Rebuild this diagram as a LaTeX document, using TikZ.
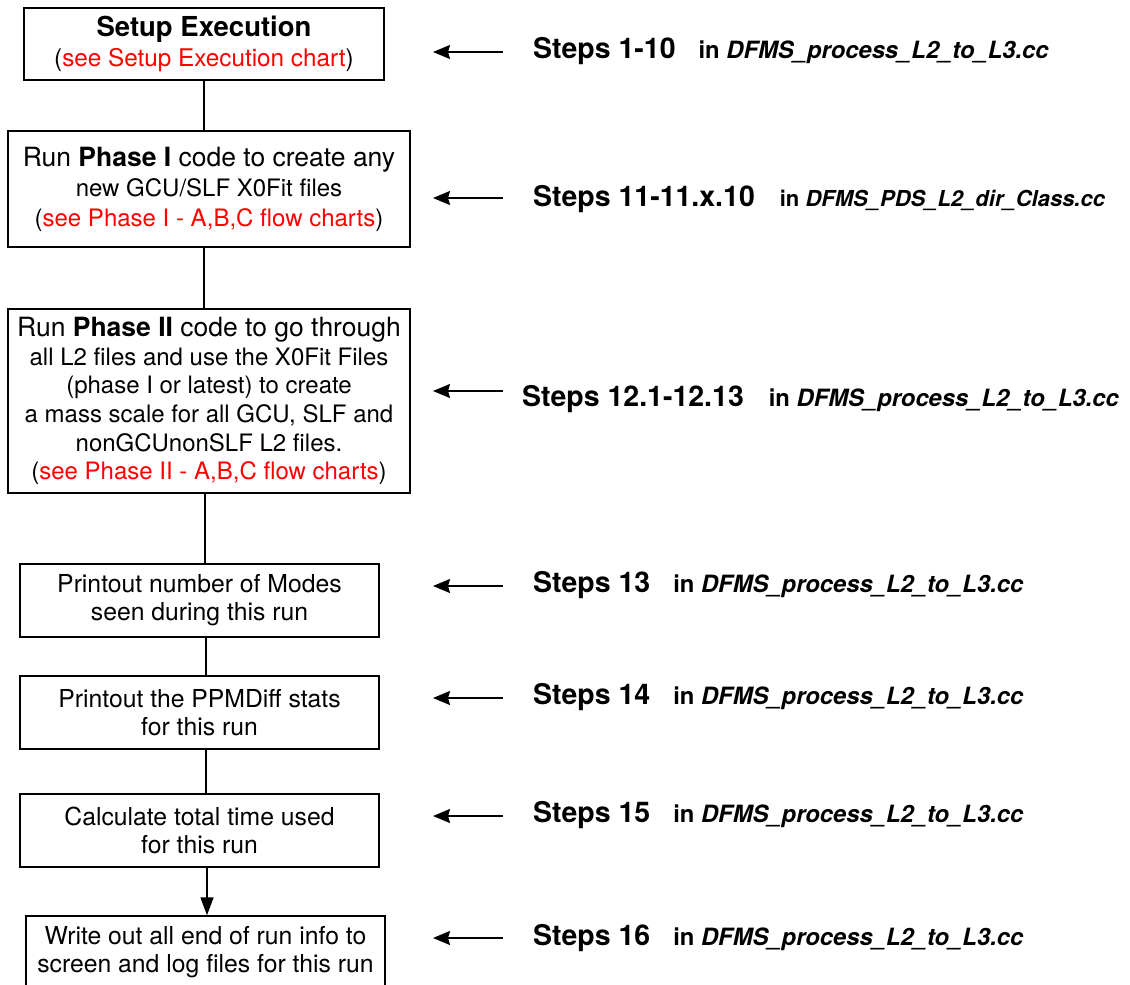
\documentclass[tikz,border=0pt]{standalone}
\usepackage{fontspec}
\setmainfont{TeX Gyre Heros}
\usetikzlibrary{arrows.meta}
\definecolor{linkred}{RGB}{255,0,0}
\newcommand{\seeref}[1]{({\color{linkred}#1})}
\begin{document}
\begin{tikzpicture}[x=1pt,y=-1pt,
  flowbox/.style={draw=black,line width=1.4pt,align=center,inner sep=0pt,
    font=\fontsize{24}{29}\selectfont},
  smallbox/.style={flowbox,minimum width=359pt,minimum height=73pt,
    font=\fontsize{24.75}{28}\selectfont},
  conn/.style={line width=1.4pt},
  steparrow/.style={line width=1.6pt,-{Stealth[length=17pt,width=14pt,inset=2pt]}},
  steplabel/.style={anchor=base west,inner sep=0pt,
    font=\fontsize{28.5}{30}\selectfont\bfseries}]
\path[use as bounding box,clip] (0,0) rectangle (1130,985);
\newcommand{\infile}[2][23.8]{{\fontsize{#1}{26}\selectfont in \textit{#2}}}

% boxes
\node[flowbox,minimum width=360pt,minimum height=72pt,font=\fontsize{24.3}{30}\selectfont] (b1) at (204,44)
  {{\fontsize{27.5}{30}\selectfont\bfseries Setup Execution}\\\seeref{see Setup Execution chart}};
\node[flowbox,minimum width=402pt,minimum height=116pt,font=\fontsize{24}{30}\selectfont] (b2) at (209,189)
  {{\fontsize{26.5}{30}\selectfont Run \textbf{Phase I} code to create any}\\
   new GCU/SLF X0Fit files\\
   \seeref{see Phase I - A,B,C flow charts}};
\node[flowbox,minimum width=402pt,minimum height=184pt,font=\fontsize{24}{28.6}\selectfont] (b3) at (209,401)
  {{\fontsize{26.5}{28.6}\selectfont Run \textbf{Phase II} code to go through}\\
   all L2 files and use the X0Fit Files\\
   (phase I or latest) to create\\
   a mass scale for all GCU, SLF and\\
   nonGCUnonSLF L2 files.\\
   \seeref{see Phase II - A,B,C flow charts}};
\node[smallbox] (b4) at (199.5,600.5) {Printout number of Modes\\seen during this run};
\node[smallbox] (b5) at (199.5,712.5) {Printout the PPMDiff stats\\for this run};
\node[smallbox] (b6) at (199.5,830.5) {Calculate total time used\\for this run};
\node[smallbox] (b7) at (205.5,952.5) {Write out all end of run info to\\screen and log files for this run};

% spine connectors
\coordinate (sp1) at (204,0);
\coordinate (sp2) at (205,0);
\coordinate (sp3) at (206,0);
\coordinate (sp4) at (207,0);
\draw[conn] (b1.south -| sp1) -- (b2.north -| sp1);
\draw[conn] (b2.south -| sp1) -- (b3.north -| sp1);
\draw[conn] (b3.south -| sp2) -- (b4.north -| sp2);
\draw[conn] (b4.south -| sp3) -- (b5.north -| sp3);
\draw[conn] (b5.south -| sp3) -- (b6.north -| sp3);
\draw[line width=1.4pt,-{Triangle[length=18pt,width=13pt]}] (b6.south -| sp4) -- (b7.north -| sp4);

% step labels
\node[steplabel] (s1) at (533,58) {Steps 1-10\hspace{23pt}\infile{DFMS\_process\_L2\_to\_L3.cc}};
\node[steplabel] (s2) at (533,206) {Steps 11-11.x.10\hspace{25pt}\infile[22]{DFMS\_PDS\_L2\_dir\_Class.cc}};
\node[steplabel] (s3) at (522,406) {Steps 12.1-12.13\hspace{25pt}\infile{DFMS\_process\_L2\_to\_L3.cc}};
\node[steplabel] (s4) at (533,592) {Steps 13\hspace{23pt}\infile{DFMS\_process\_L2\_to\_L3.cc}};
\node[steplabel] (s5) at (533,704) {Steps 14\hspace{23pt}\infile{DFMS\_process\_L2\_to\_L3.cc}};
\node[steplabel] (s6) at (533,822) {Steps 15\hspace{23pt}\infile{DFMS\_process\_L2\_to\_L3.cc}};
\node[steplabel] (s7) at (533,945) {Steps 16\hspace{23pt}\infile{DFMS\_process\_L2\_to\_L3.cc}};

% step arrows
\foreach \i/\y in {1/52,2/198,3/391,4/586,5/698,6/816,7/938}{
  \coordinate (as\i) at (503,\y);
  \coordinate (ae\i) at (433,\y);
  \draw[steparrow] (as\i) -- (ae\i);
}
\end{tikzpicture}
\end{document}
